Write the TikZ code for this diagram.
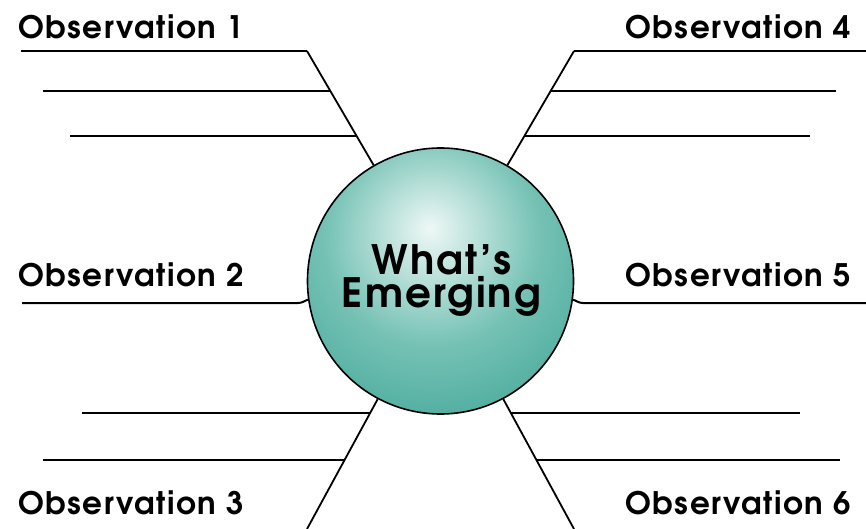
\documentclass[tikz,border=0pt]{standalone}
\usepackage{fontspec}
\newfontfamily\advfont[LetterSpace=5]{texgyreadventor-bold.otf}
\usetikzlibrary{calc}
\definecolor{tealedge}{RGB}{52,156,141}
\definecolor{tealouter}{RGB}{72,170,156}
\definecolor{tealmid}{RGB}{118,194,181}
\definecolor{teallight}{RGB}{238,248,246}
\begin{document}
\begin{tikzpicture}[x=1pt,y=-1pt,
  obslabel/.style={anchor=base west,inner sep=0pt,font=\advfont\fontsize{31}{31}\selectfont},
  centrelabel/.style={align=center,inner sep=0pt,font=\advfont\fontsize{40.5}{33}\selectfont},
  rule/.style={line width=2pt,black},
  spoke/.style={line width=1.8pt,black}]
\useasboundingbox (0,0) rectangle (866,529);
\pgfdeclareradialshading{emerge}{\pgfpoint{-2bp}{10bp}}{%
  color(0bp)=(teallight); color(6bp)=(teallight!70!tealmid); color(20bp)=(tealmid); color(36bp)=(tealouter); color(52bp)=(tealedge); color(100bp)=(tealedge)}
% central circle
\node (c) [circle,draw,line width=1.6pt,minimum size=266pt,inner sep=0pt,shading=emerge] at (440.5,281) {};
\node (ct) [centrelabel] at (441.5,281) {What’s\\Emerging};
% labels
\node (o1) [obslabel] at (18,39) {Observation 1};
\node (o2) [obslabel] at (18,286) {Observation 2};
\node (o3) [obslabel] at (18,514) {Observation 3};
\node (o4) [obslabel] at (625,39) {Observation 4};
\node (o5) [obslabel] at (625,286) {Observation 5};
\node (o6) [obslabel] at (625,514) {Observation 6};
% top-left spoke
\coordinate (tl0) at (307,51);
\coordinate (tlL1) at (21,51);
\coordinate (tl2) at (331,91);  \coordinate (tlL2) at (43,91);
\coordinate (tl3) at (356,136); \coordinate (tlL3) at (70,136);
\draw[spoke] (tl0) -- (c.120);
\draw[rule] (tlL1) -- (tl0);
\draw[rule] (tlL2) -- (tl2);
\draw[rule] (tlL3) -- (tl3);
% top-right spoke
\coordinate (tr0) at (574,51);
\coordinate (trR1) at (866,51);
\coordinate (tr2) at (551,91);  \coordinate (trR2) at (836,91);
\coordinate (tr3) at (525,136); \coordinate (trR3) at (810,136);
\draw[spoke] (tr0) -- (c.60);
\draw[rule] (tr0) -- (trR1);
\draw[rule] (tr2) -- (trR2);
\draw[rule] (tr3) -- (trR3);
% middle
\coordinate (mlL) at (22,303);
\coordinate (mlE) at (298,303);
\coordinate (mrR) at (866,303);
\coordinate (mrE) at (583,303);
\draw[rule] (mlL) -- (mlE) to[out=0,in=200] (c.188);
\draw[rule] (mrR) -- (mrE) to[out=180,in=-20] (c.352);
% bottom-left spoke
\coordinate (bl0) at (307,529);
\coordinate (bl1) at (370,413); \coordinate (blL1) at (82,413);
\coordinate (bl2) at (345,460); \coordinate (blL2) at (43,460);
\draw[spoke] (c.242) -- (bl0);
\draw[rule] (blL1) -- (bl1);
\draw[rule] (blL2) -- (bl2);
% bottom-right spoke
\coordinate (br0) at (574,529);
\coordinate (br1) at (510,413); \coordinate (brR1) at (800,413);
\coordinate (br2) at (536,460); \coordinate (brR2) at (840,460);
\draw[spoke] (c.298) -- (br0);
\draw[rule] (br1) -- (brR1);
\draw[rule] (br2) -- (brR2);
\end{tikzpicture}
\end{document}
